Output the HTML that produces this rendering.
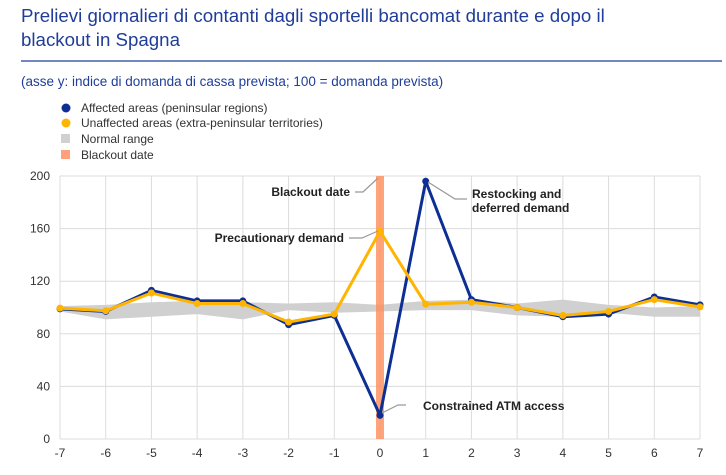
<!DOCTYPE html>
<html><head><meta charset="utf-8"><style>
body{margin:0;background:#fff;width:726px;height:470px;overflow:hidden;font-family:"Liberation Sans",sans-serif}
</style></head><body>
<svg width="726" height="470" xmlns="http://www.w3.org/2000/svg">
<text x="21" y="22" font-size="18.7" fill="#1f3d99">Prelievi giornalieri di contanti dagli sportelli bancomat durante e dopo il</text>
<text x="21" y="46" font-size="18.7" fill="#1f3d99">blackout in Spagna</text>
<line x1="21" y1="61" x2="722" y2="61" stroke="#1f3d99" stroke-width="1.2"/>
<text x="21" y="86" font-size="13.5" fill="#1f3d99">(asse y: indice di domanda di cassa prevista; 100 = domanda prevista)</text>
<g font-size="12" fill="#333">
<circle cx="66" cy="108" r="4.5" fill="#0d2f94"/>
<text x="81" y="112">Affected areas (peninsular regions)</text>
<circle cx="66" cy="123" r="4.5" fill="#ffb400"/>
<text x="81" y="127">Unaffected areas (extra-peninsular territories)</text>
<rect x="61" y="134" width="9" height="9" fill="#d0d0d0"/>
<text x="81" y="143">Normal range</text>
<rect x="61" y="150" width="9" height="9" fill="#ffa07a"/>
<text x="81" y="159">Blackout date</text>
</g>
<g id="plot"></g>
</svg>
<script>
const days=[-7,-6,-5,-4,-3,-2,-1,0,1,2,3,4,5,6,7];
const affected=[99,97,113,105,105,87,94,18,196,106,100,93,95,108,102];
const unaffected=[99.5,97.5,111,103,103,89,95,158,102.5,104,100,94,97,106,100.5];
const rangeLow=[97,91,93,95,91,98,96,97,98,98,94,93,96,93,93];
const rangeHigh=[101,102,104,105,104,103,104,102,105,106,103,106,102,100,101];
const yTicks=[0,40,80,120,160,200];
const X0=60,X1=700,Y0=439,Y1=176;
const sx=d=>X0+(d+7)/14*(X1-X0);
const sy=v=>Y0-v/200*(Y0-Y1);
const NS="http://www.w3.org/2000/svg";
const g=document.getElementById('plot');
function mk(t,a){const e=document.createElementNS(NS,t);for(const k in a)e.setAttribute(k,a[k]);g.appendChild(e);return e;}
yTicks.forEach(v=>{
 const l=mk('line',{x1:X0,x2:X1,y1:sy(v),y2:sy(v),stroke:'#dcdcdc','stroke-width':1});
 
 
 const t=mk('text',{x:X0-10,y:sy(v)+4,'font-size':12,fill:'#333','text-anchor':'end'});
 t.textContent=v;
 
 
});
days.forEach(d=>{
 const l=mk('line',{x1:sx(d),x2:sx(d),y1:Y1,y2:Y0,stroke:'#dcdcdc','stroke-width':1});
 
 
 const t=mk('text',{x:sx(d),y:Y0+18,'font-size':12,fill:'#333','text-anchor':'middle'});
 t.textContent=d;
 
 
});
let pts=days.map((d,i)=>sx(d)+','+sy(rangeHigh[i])).concat(days.slice().reverse().map((d,j)=>{const i=days.length-1-j;return sx(d)+','+sy(rangeLow[i]);}));
const band=mk('polygon',{points:pts.join(' '),fill:'#d0d0d0'});


const bo=mk('rect',{x:sx(0)-4,y:Y1,width:8,height:Y0-Y1,fill:'#ff8c5a','fill-opacity':0.8});


function series(vals,color,name){
 const p=mk('polyline',{points:days.map((d,i)=>sx(d)+','+sy(vals[i])).join(' '),fill:'none',stroke:color,'stroke-width':3,'stroke-linejoin':'round'});
 
 
 days.forEach((d,i)=>{
  const c=mk('circle',{cx:sx(d),cy:sy(vals[i]),r:3.5,fill:color});
  
  
 });
}
series(affected,'#0d2f94','affected');
series(unaffected,'#ffb400','unaffected');
function ann(lines,tx,ty,anchor,path,name){
 const p=mk('polyline',{points:path,fill:'none',stroke:'#999','stroke-width':1.2});
 
 
 lines.forEach((s,i)=>{
  const t=mk('text',{x:tx,y:ty+i*14,'font-size':12,'font-weight':'bold',fill:'#222','text-anchor':anchor});
  t.textContent=s;
  
  
 });
}
ann(['Blackout date'],350,196,'end','355,192 363,192 378,178','blackout');
ann(['Precautionary demand'],344,242,'end','349,238 362,238 378,231','precautionary');
ann(['Restocking and','deferred demand'],472,198,'start','428,182 455,199 467,199','restocking');
ann(['Constrained ATM access'],423,410,'start','382,413 398,405 406,405','constrained');
</script>
</body></html>
